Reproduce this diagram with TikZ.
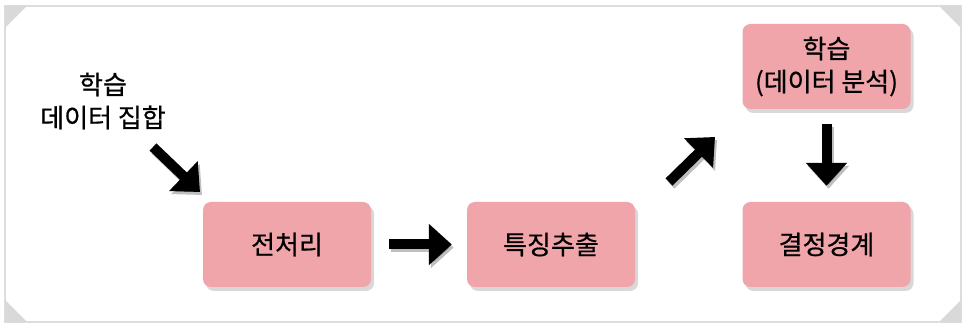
\documentclass[tikz,border=0pt]{standalone}
\usepackage{fontspec}
\newfontfamily\krfont[FakeBold=0.6]{Noto Sans CJK KR}
\usetikzlibrary{arrows.meta,shadows}
\definecolor{BoxPink}{RGB}{240,165,171}
\definecolor{FrameGray}{RGB}{221,221,221}
\definecolor{CornerGray}{RGB}{217,217,217}

\begin{document}
\begin{tikzpicture}[x=1pt,y=-1pt,
    labeltext/.style={align=center,font=\krfont\fontsize{26}{33}\selectfont},
    stage/.style={labeltext,fill=BoxPink,rounded corners=8pt,minimum width=168pt,minimum height=85pt,
      drop shadow={shadow xshift=3pt,shadow yshift=-4pt,opacity=0.3}},
    bigarrow/.style={line width=10pt,-{Triangle[width=40pt,length=23pt]},
      preaction={draw=black,opacity=0.25,line width=10pt,-{Triangle[width=40pt,length=23pt]},
        transform canvas={xshift=2pt,yshift=-3pt}}}]
  \useasboundingbox (0,0) rectangle (966,328);
  \draw[FrameGray,line width=1.5pt,fill=white] (5,6) rectangle (961,322);
  \fill[CornerGray] (5,6) -- (27,6) -- (5,28) -- cycle;
  \fill[CornerGray] (961,6) -- (939,6) -- (961,28) -- cycle;
  \fill[CornerGray] (5,322) -- (27,322) -- (5,300) -- cycle;
  \fill[CornerGray] (961,322) -- (939,322) -- (961,300) -- cycle;

  \node[labeltext] (data) at (103,101) {학습\\데이터 집합};
  \node[stage] (pre) at (287,244.5) {전처리};
  \node[stage] (feat) at (551,244.5) {특징추출};
  \node[stage] (learn) at (826.5,66.5) {학습\\(데이터 분석)};
  \node[stage] (bound) at (826.5,244.5) {결정경계};

  \coordinate (inS) at (153,147);
  \coordinate (inE) at (200,192);
  \coordinate (upS) at (669,182);
  \coordinate (upE) at (715,137);
  \draw[bigarrow] (inS) -- (inE);
  \draw[bigarrow,shorten <=18pt,shorten >=15pt] (pre.east) -- (feat.west);
  \draw[bigarrow] (upS) -- (upE);
  \draw[bigarrow,shorten <=15pt,shorten >=16pt] (learn.south) -- (bound.north);
\end{tikzpicture}
\end{document}
